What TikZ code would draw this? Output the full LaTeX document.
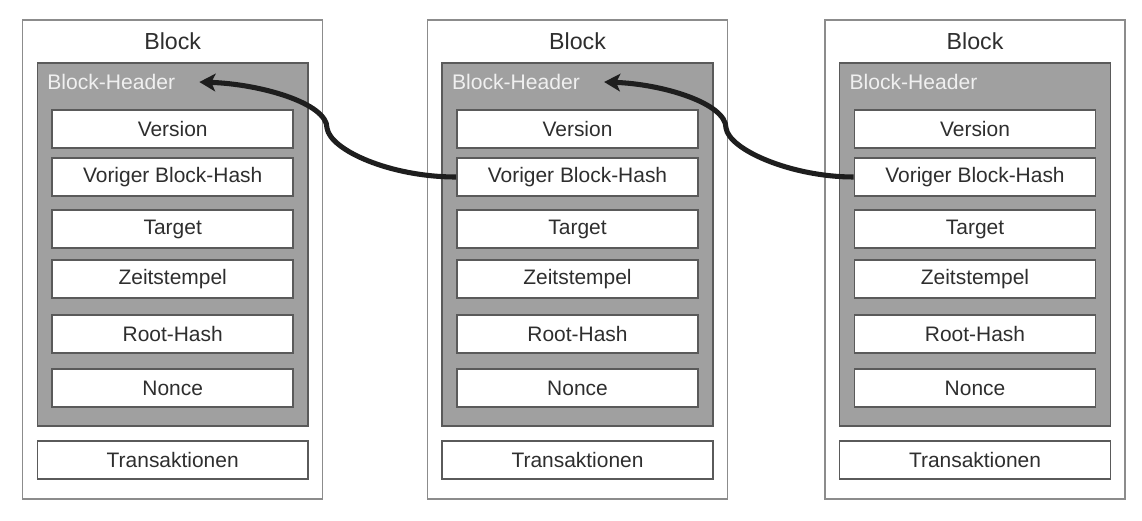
\documentclass[tikz,border=0pt]{standalone}
\usepackage{fontspec}
\setmainfont{Liberation Sans}
\usepackage{tikz}
\usetikzlibrary{arrows.meta, calc}

\definecolor{rahmen}{HTML}{8C8C8C}
\definecolor{kopf}{HTML}{A0A0A0}
\definecolor{kante}{HTML}{5A5A5A}
\definecolor{schrift}{HTML}{2E2E2E}
\definecolor{pfeil}{HTML}{1E1E1E}

\tikzset{
  feld/.style={draw=kante, line width=1.1pt, fill=white, text=schrift,
    minimum width=6.025cm, minimum height=0.95cm, inner sep=0pt,
    font=\fontsize{14.9}{17}\selectfont},
  titel/.style={text=schrift, inner sep=0pt, font=\fontsize{16.5}{19}\selectfont},
  kopftext/.style={text=white!94!black, inner sep=0pt, anchor=west,
    font=\fontsize{15}{18}\selectfont},
  verweis/.style={draw=pfeil, line width=3.6pt,
    -{Stealth[length=4mm, width=4.4mm, inset=1mm]}}
}

\begin{document}
\begin{tikzpicture}[x=0.025cm, y=-0.025cm]
  \useasboundingbox (0,0) rectangle (1142,520);

  % DREI BLOECKE
  \foreach \cx/\n in {172.7/1, 577.5/2, 975/3} {
    \begin{scope}[shift={(\cx,0)}]
      % Rahmen + Header-Flaeche
      \draw[rahmen, fill=white, line width=1pt] (-150,20) rectangle (150,499);
      \draw[kante, fill=kopf, line width=1.1pt] (-135.3,63) rectangle (135.3,426);
      \node[titel] (titel\n) at (0,41) {Block};
      \node[kopftext] (kopf\n) at (-125.7,82) {Block-Header};

      % Felder im Header
      \node[feld] (ver\n)   at (0,129) {Version};
      \node[feld] (hash\n)  at (0,177) {Voriger Block-Hash};
      \node[feld] (ziel\n)  at (0,229) {Target};
      \node[feld] (zeit\n)  at (0,279) {Zeitstempel};
      \node[feld] (root\n)  at (0,334) {Root-Hash};
      \node[feld] (nonce\n) at (0,388) {Nonce};

      % Transaktionen unten
      \node[feld, minimum width=6.765cm] (tx\n) at (0,460) {Transaktionen};
    \end{scope}
  }

  % Verweise auf den vorigen Block
  \draw[verweis] (hash2.west) .. controls (390,177) and (330,150) .. (327,128)
    .. controls (327,103) and (260,84) .. ($(kopf1.east)+(24,0)$);
  \draw[verweis] (hash3.west) .. controls (792,177) and (729,150) .. (726,128)
    .. controls (726,103) and (662,84) .. ($(kopf2.east)+(24,0)$);
\end{tikzpicture}
\end{document}
